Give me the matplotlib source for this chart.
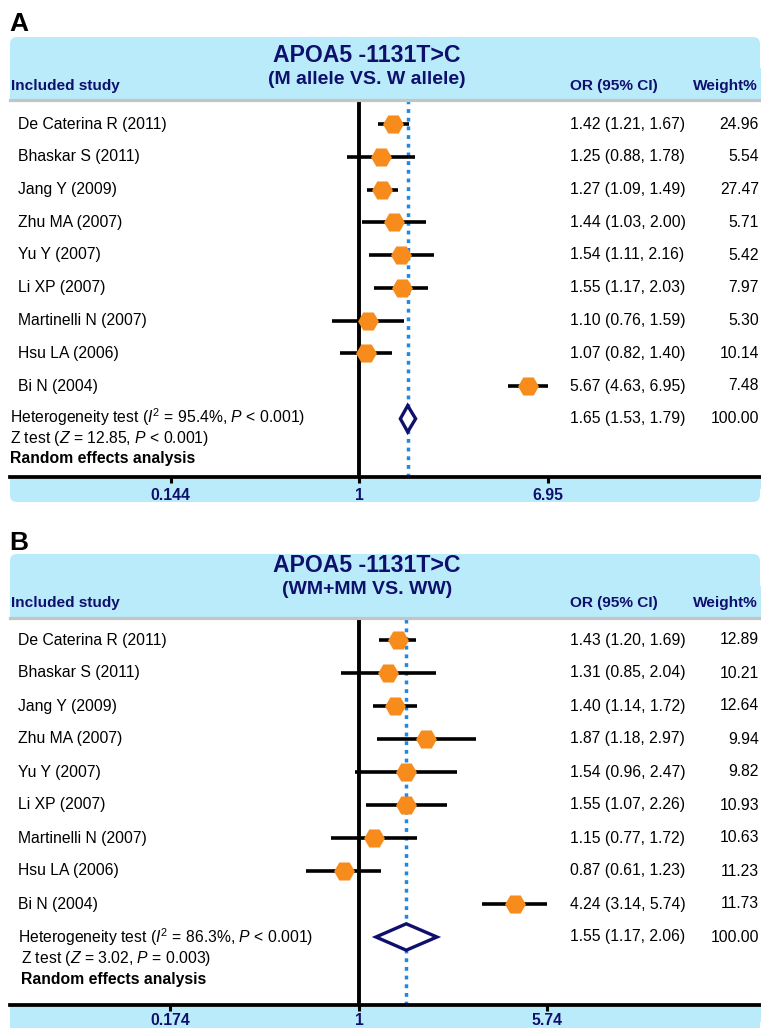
import numpy as np
import matplotlib
matplotlib.use('Agg')
import matplotlib.pyplot as plt
from matplotlib.patches import FancyBboxPatch, Rectangle
from matplotlib.transforms import blended_transform_factory

plt.rcParams['font.family'] = ['Liberation Sans', 'DejaVu Sans']
plt.rcParams['mathtext.fontset'] = 'custom'
plt.rcParams['mathtext.rm'] = 'Liberation Sans'
plt.rcParams['mathtext.it'] = 'Liberation Sans:italic'
plt.rcParams['mathtext.bf'] = 'Liberation Sans:bold'

# ---------------- data ----------------
studies = ["De Caterina R (2011)", "Bhaskar S (2011)", "Jang Y (2009)", "Zhu MA (2007)",
           "Yu Y (2007)", "Li XP (2007)", "Martinelli N (2007)", "Hsu LA (2006)", "Bi N (2004)"]

a_or = [1.42, 1.25, 1.27, 1.44, 1.54, 1.55, 1.10, 1.07, 5.67]
a_lo = [1.21, 0.88, 1.09, 1.03, 1.11, 1.17, 0.76, 0.82, 4.63]
a_hi = [1.67, 1.78, 1.49, 2.00, 2.16, 2.03, 1.59, 1.40, 6.95]
a_w = [24.96, 5.54, 27.47, 5.71, 5.42, 7.97, 5.30, 10.14, 7.48]
a_pool = [1.65, 1.53, 1.79]
a_ticks = [0.144, 1, 6.95]
a_ticklabels = ["0.144", "1", "6.95"]
a_het = r"Heterogeneity test ($\mathit{I}^2$ = 95.4%, $\mathit{P}$ < 0.001)"
a_z = r"Z test ($\mathit{Z}$ = 12.85, $\mathit{P}$ < 0.001)"
a_sub = "(M allele VS. W allele)"

b_or = [1.43, 1.31, 1.40, 1.87, 1.54, 1.55, 1.15, 0.87, 4.24]
b_lo = [1.20, 0.85, 1.14, 1.18, 0.96, 1.07, 0.77, 0.61, 3.14]
b_hi = [1.69, 2.04, 1.72, 2.97, 2.47, 2.26, 1.72, 1.23, 5.74]
b_w = [12.89, 10.21, 12.64, 9.94, 9.82, 10.93, 10.63, 11.23, 11.73]
b_pool = [1.55, 1.17, 2.06]
b_ticks = [0.174, 1, 5.74]
b_ticklabels = ["0.174", "1", "5.74"]
b_het = r"Heterogeneity test ($\mathit{I}^2$ = 86.3%, $\mathit{P}$ < 0.001)"
b_z = r"Z test ($\mathit{Z}$ = 3.02, $\mathit{P}$ = 0.003)"
b_sub = "(WM+MM VS. WW)"

title = "APOA5 -1131T>C"

# ---------------- style ----------------
BLUE_BG = '#BAEBFA'
NAVY = '#0F0F6E'
ORANGE = '#F78B1C'
DOT = '#1E88E5'
GRAY = '#C4C4C4'
FS = 11.3

W, H = 761, 1028
fig = plt.figure(figsize=(W / 100, H / 100), dpi=100)
bg = fig.add_axes([0, 0, 1, 1])
bg.set_xlim(0, W)
bg.set_ylim(H, 0)
bg.axis('off')
bg.set_zorder(0)

X0, X1 = 10, 760
XONE = 359


def rbox(y0, y1, round_top):
    r = 7
    p = FancyBboxPatch((X0 + r, y0 + r), X1 - X0 - 2 * r, (y1 - y0) - 2 * r,
                       boxstyle=f"round,pad={r}", fc=BLUE_BG, ec='none', zorder=0)
    bg.add_patch(p)
    if round_top:
        bg.add_patch(Rectangle((X0 - 0.5, (y0 + y1) / 2), X1 - X0 + 1, (y1 - y0) / 2 + 0.5,
                               fc=BLUE_BG, ec='none', zorder=0))
    else:
        bg.add_patch(Rectangle((X0 - 0.5, y0 - 0.5), X1 - X0 + 1, (y1 - y0) / 2,
                               fc=BLUE_BG, ec='none', zorder=0))


def panel(letter, ly, hdr_top, gray_y, axis_y, box_bot, t_y, s_y, inc_y,
          row0, dy, het_b, z_b, r_b, het_x, z_x, ors, los, his, ws, pool, ticks, ticklabels,
          het, ztxt, sub, tpad):
    bg.text(9, ly, letter, fontsize=19, fontweight='bold', ha='left', va='center', color='black')
    rbox(hdr_top, gray_y, True)
    rbox(axis_y, box_bot, False)
    bg.text(367, t_y, title, fontsize=16.6, fontweight='bold', color=NAVY, ha='center', va='center')
    bg.text(367, s_y, sub, fontsize=14, fontweight='bold', color=NAVY, ha='center', va='center')
    bg.text(11, inc_y, "Included study", fontsize=11.1, fontweight='bold', color=NAVY, ha='left', va='center')
    bg.text(613.5, inc_y, "OR (95% CI)", fontsize=11.1, fontweight='bold', color=NAVY, ha='center', va='center')
    bg.text(725.5, inc_y, "Weight%", fontsize=11.1, fontweight='bold', color=NAVY, ha='center', va='center')

    ax = fig.add_axes([X0 / W, 1 - axis_y / H, (X1 - X0) / W, (axis_y - gray_y) / H])
    ax.set_zorder(1)
    ax.patch.set_visible(False)
    ax.set_xscale('log')
    k = (549 - 172) / (np.log(ticks[-1]) - np.log(ticks[0]))
    ax.set_xlim(np.exp((X0 - XONE) / k), np.exp((X1 - XONE) / k))
    ax.set_ylim((axis_y - row0) / dy, (gray_y - row0) / dy)
    for s in ['left', 'right']:
        ax.spines[s].set_visible(False)
    ax.spines['top'].set_color(GRAY)
    ax.spines['top'].set_linewidth(2.3)
    ax.spines['bottom'].set_color('black')
    ax.spines['bottom'].set_linewidth(2.7)
    ax.set_yticks([])
    ax.xaxis.set_minor_locator(matplotlib.ticker.NullLocator())
    ax.set_xticks(ticks)
    ax.set_xticklabels(ticklabels)
    ax.tick_params(axis='x', direction='out', length=4.5, width=2.2, color='black',
                   labelsize=11.3, labelcolor=NAVY, pad=tpad)
    for t in ax.get_xticklabels():
        t.set_fontweight('bold')

    ax.axvline(1, color='black', lw=2.8, zorder=2)
    ax.axvline(pool[0], color=DOT, lw=2.5, linestyle=(0, (1.1, 1.4)), zorder=2)

    rows = np.arange(len(studies))
    ax.hlines(rows, los, his, color='black', lw=2.6, zorder=3)
    ax.plot(ors, rows, linestyle='none', marker='H', markersize=15, color=ORANGE,
            markeredgewidth=0, zorder=4)
    prow = len(studies)
    h = 0.4
    ax.fill([pool[1], pool[0], pool[2], pool[0], pool[1]],
            [prow, prow - h, prow, prow + h, prow], fc='white', ec=NAVY, lw=2.4, zorder=5,
            joinstyle='miter')

    tr = blended_transform_factory(bg.transData, ax.transData)
    trp = bg.transData
    for i, s in enumerate(studies):
        ax.text(18, i, s, transform=tr, fontsize=FS, ha='left', va='center')
        ax.text(570, i, f"{ors[i]:.2f} ({los[i]:.2f}, {his[i]:.2f})", transform=tr,
                fontsize=FS, ha='left', va='center')
        ax.text(759, i, f"{ws[i]:.2f}", transform=tr, fontsize=FS, ha='right', va='center')
    ax.text(570, prow, f"{pool[0]:.2f} ({pool[1]:.2f}, {pool[2]:.2f})", transform=tr,
            fontsize=FS, ha='left', va='center')
    ax.text(759, prow, "100.00", transform=tr, fontsize=FS, ha='right', va='center')
    bg.text(het_x, het_b, het, fontsize=FS, ha='left', va='baseline')
    bg.text(z_x, z_b, ztxt, fontsize=FS, ha='left', va='baseline')
    bg.text(z_x, r_b, "Random effects analysis", fontsize=FS,
            fontweight='bold', ha='left', va='baseline')
    return ax


panel("A", 24, 37, 99.5, 476.5, 502, 56, 80, 86, 124, 32.75, 423.5, 442.5, 463,
      10, 10, a_or, a_lo, a_hi, a_w, a_pool, a_ticks, a_ticklabels,
      a_het, a_z, a_sub, 3.5)
panel("B", 543, 554, 617.5, 1005, 1040, 566, 590, 603, 640, 33.0, 942.5, 963, 984,
      18, 21, b_or, b_lo, b_hi, b_w, b_pool, b_ticks, b_ticklabels,
      b_het, b_z, b_sub, 1.5)

fig.savefig("out.png", dpi=100)
